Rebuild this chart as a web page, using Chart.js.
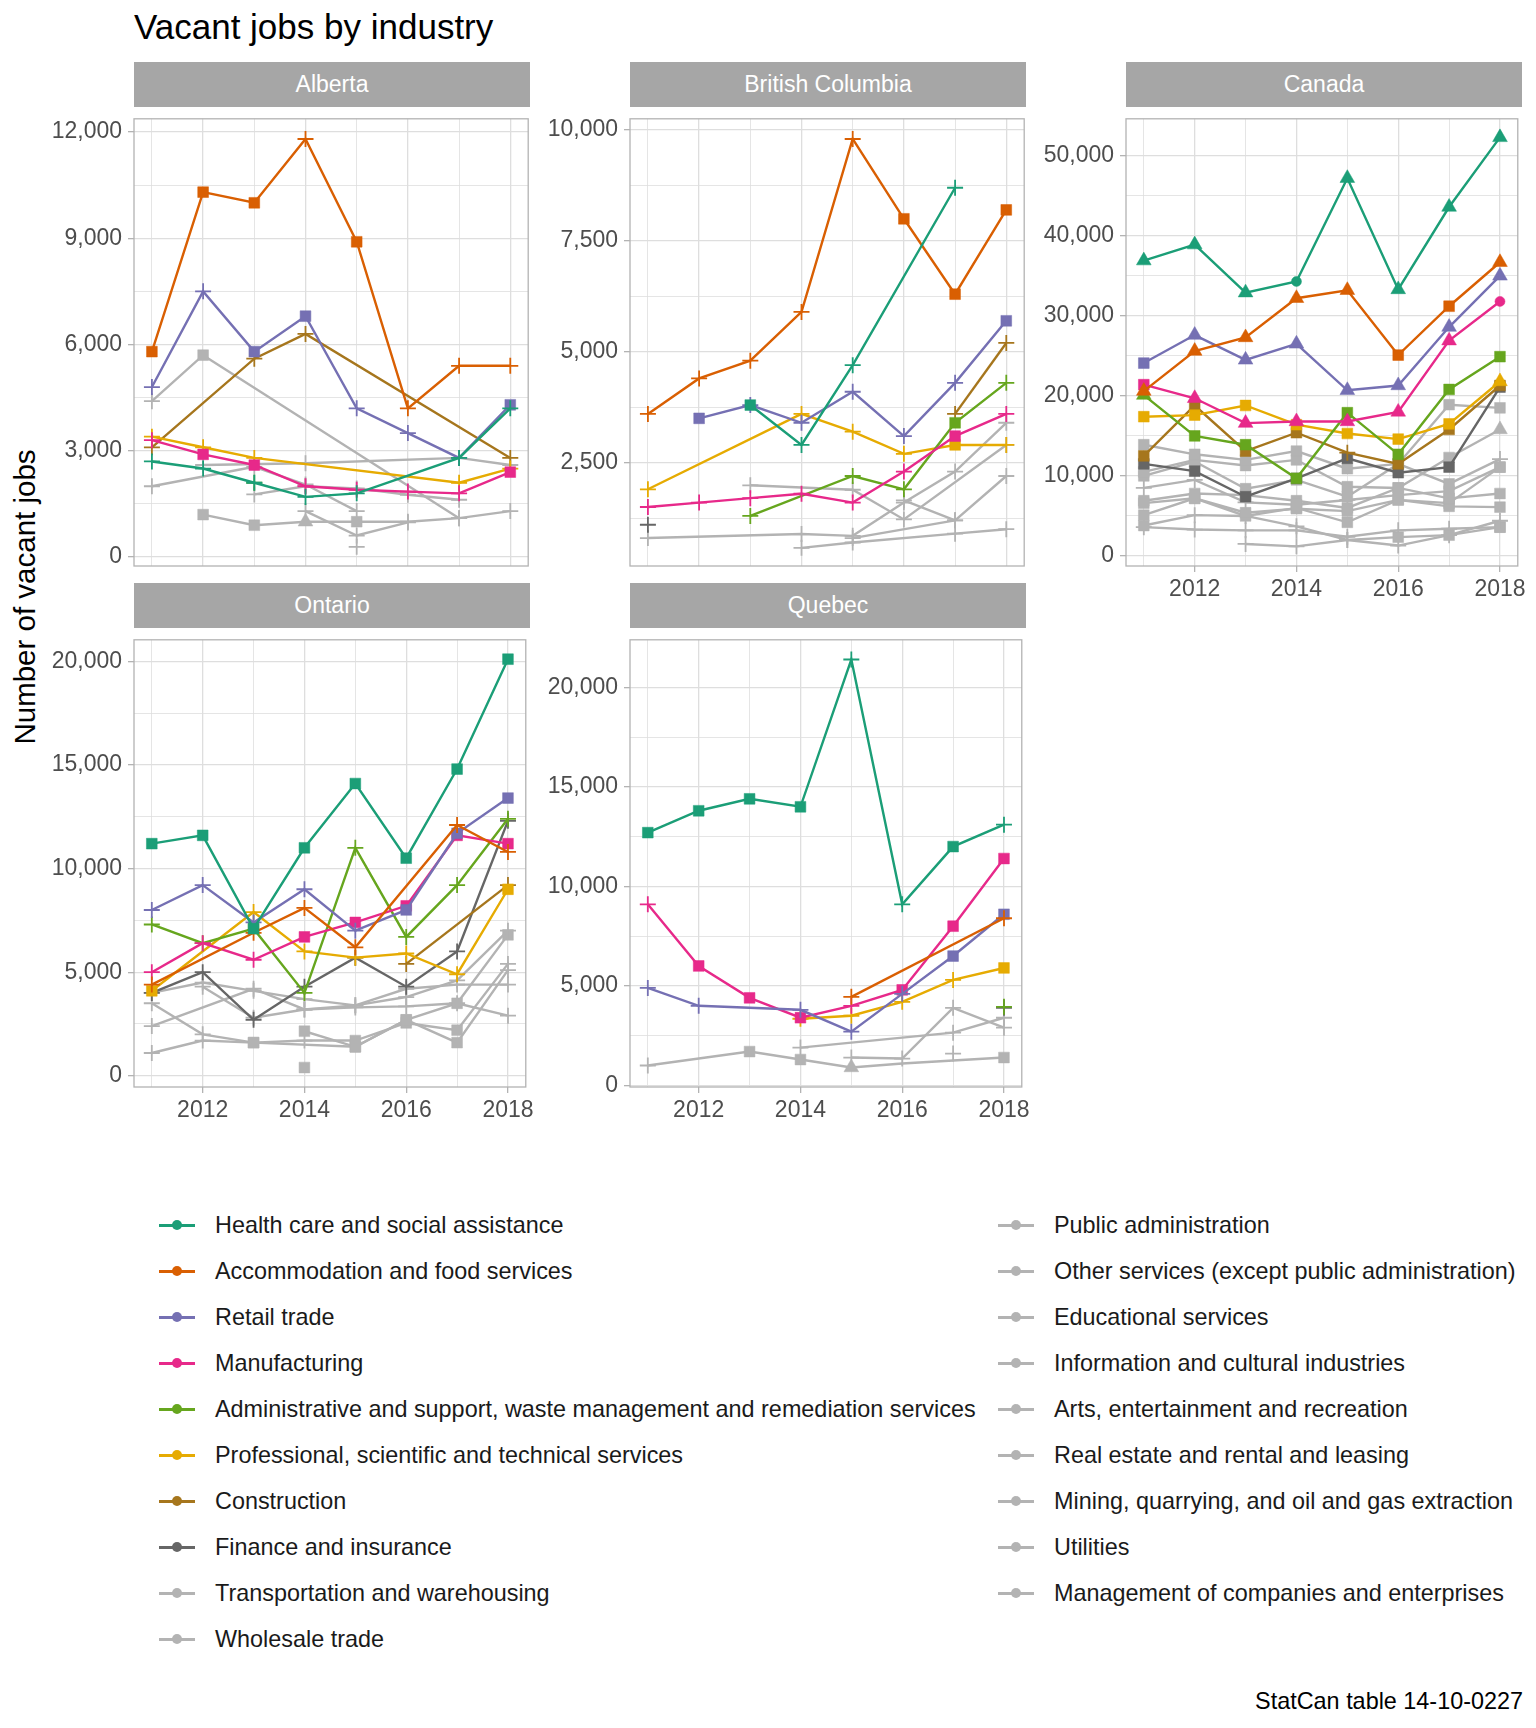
<!DOCTYPE html>
<html>
<head>
<meta charset="utf-8">
<script src="https://cdn.jsdelivr.net/npm/chart.js@4.4.1/dist/chart.umd.min.js"></script>
<style>
  body { margin: 0; background: #fff; font-family: "Liberation Sans", Arial, sans-serif; }
  #wrap { position: relative; width: 1536px; height: 1728px; overflow: hidden; }
  .strip { position: absolute; background: #a6a6a6; color: #fff; font-size: 23px;
           display: flex; align-items: center; justify-content: center; }
  canvas { position: absolute; }
  .leg { position: absolute; height: 30px; display: flex; align-items: center;
         font-size: 23.4px; color: #1a1a1a; white-space: nowrap; }
  .key { position: relative; width: 36px; height: 30px; margin-right: 20px; flex: none; }
  .key i { position: absolute; left: 0; right: 0; top: 14px; height: 2.5px; }
  .key b { position: absolute; left: 13px; top: 10px; width: 10px; height: 10px; border-radius: 50%; }
</style>
</head>
<body>
<div id="wrap">
  <div style="position:absolute;left:134px;top:9px;font-size:35px;line-height:1;color:#000">Vacant jobs by industry</div>
  <div style="position:absolute;left:-175px;top:580px;width:400px;height:34px;line-height:34px;text-align:center;font-size:29.5px;color:#000;transform:rotate(-90deg)">Number of vacant jobs</div>
  <div style="position:absolute;right:13px;top:1688px;font-size:23.4px;line-height:26px;color:#000">StatCan table 14-10-0227</div>
</div>
<script>
const years = [2011, 2012, 2013, 2014, 2015, 2016, 2017, 2018];

const industries = [
  "Health care and social assistance",
  "Accommodation and food services",
  "Retail trade",
  "Manufacturing",
  "Administrative and support, waste management and remediation services",
  "Professional, scientific and technical services",
  "Construction",
  "Finance and insurance",
  "Transportation and warehousing",
  "Wholesale trade",
  "Public administration",
  "Other services (except public administration)",
  "Educational services",
  "Information and cultural industries",
  "Arts, entertainment and recreation",
  "Real estate and rental and leasing",
  "Mining, quarrying, and oil and gas extraction",
  "Utilities",
  "Management of companies and enterprises"
];

const industryColors = ["#1b9e77", "#d95f02", "#7570b3", "#e7298a", "#66a61e", "#e6ab02", "#a6761d", "#666666",
  "#b3b3b3", "#b3b3b3", "#b3b3b3", "#b3b3b3", "#b3b3b3", "#b3b3b3", "#b3b3b3", "#b3b3b3", "#b3b3b3", "#b3b3b3", "#b3b3b3"];

// s = square, p = plus, t = triangle, c = circle, . = no value
const albertaValues = [
  [2700, 2500, 2100, 1700, 1800, null, 2800, 4200],
  [5800, 10300, 10000, 11800, 8900, 4200, 5400, 5400],
  [4800, 7500, 5800, 6800, 4200, 3500, 2800, 4300],
  [3300, 2900, 2600, 2000, 1900, 1850, 1800, 2400],
  [null, null, 2100, null, null, null, null, null],
  [3400, 3100, 2800, null, null, null, 2100, 2500],
  [3100, null, 5600, 6300, null, null, null, 2800],
  null,
  [4400, 5700, null, null, null, null, 1100, null],
  [null, 1200, 900, 1000, 1000, 1000, 1100, 1300],
  [null, 2600, null, 2650, null, null, 2800, 2600],
  [2000, null, 2550, 2050, 1300, null, null, null],
  [null, null, 1770, 2000, 1940, 1760, 1620, null],
  [null, null, null, 1300, 610, 980, null, null],
  [null, null, null, null, 290, null, null, null]
];
const albertaShapes = ["ppppp.pp", "ssspsppp", "ppssppps", "psspppps", "..p.....", "ppp...pp", "p.pp...p", "",
  "ps....p.", ".sstsppp", ".p.p..pp", "p.ppp...", "..ppppp.", "...ppp..", "....p..."];

const bcValues = [
  [null, null, 3800, 2900, 4700, null, 8700, null],
  [3600, 4400, 4800, 5900, 9800, 8000, 6300, 8200],
  [null, 3500, 3800, 3400, 4100, 3100, 4300, 5700],
  [1500, 1600, 1700, 1800, 1600, 2300, 3100, 3600],
  [null, null, 1300, null, 2200, 1900, 3400, 4300],
  [1900, null, null, 3600, 3200, 2700, 2900, 2900],
  [null, null, null, null, null, null, 3600, 5200],
  [1100, null, null, null, null, null, null, null],
  [800, null, null, 890, 850, 1600, 2300, 3400],
  [null, null, null, 580, 700, null, 900, 1000],
  [null, null, 1990, null, 1890, 1220, null, 2900],
  [null, null, null, null, null, 1650, 1200, 2200],
  [null, null, null, null, 800, null, 1200, null]
];
const bcShapes = ["..spp.p.", "pppppsss", ".sppppps", "ppppppsp", "..p.ppsp", "p..pppsp", "......pp", "p.......",
  "p..ppppp", "...pp.pp", "..p.pp.p", ".....ppp", "....p.p."];

const canadaValues = [
  [36900, 38900, 32900, 34300, 47200, 33300, 43600, 52300],
  [20600, 25600, 27300, 32200, 33200, 25100, 31200, 36700],
  [24100, 27600, 24500, 26500, 20700, 21300, 28600, 35000],
  [21400, 19700, 16600, 16800, 16800, 18000, 26900, 31800],
  [20100, 15000, 13900, 9700, 17900, 12700, 20800, 24900],
  [17400, 17600, 18800, 16400, 15300, 14600, 16500, 21800],
  [12500, 18800, 13100, 15400, 12900, 11500, 15800, 21300],
  [11500, 10600, 7400, 9700, 12200, 10400, 11100, 21100],
  [13900, 12700, 12000, 13100, 10900, 11500, 18900, 18500],
  [10500, 12000, 11300, 12000, 8650, 8500, 12300, 15800],
  [10000, 11800, 8400, 9500, 7400, 11500, 9000, 12100],
  [8500, 9500, 6700, 6400, 7000, 7600, 8100, 11100],
  [6900, 7800, 7600, 6900, 6000, 8500, 7200, 7800],
  [6600, 7200, 5400, 5900, 5600, 7000, 6200, 6100],
  [5100, 7200, 5000, 6000, 4200, 7000, 6600, 11100],
  [3800, 5100, 5000, 3700, 2000, 2350, 2600, 4400],
  [3600, 3300, 3200, 3200, 2400, 3200, 3400, 3600],
  [null, null, 1500, 1200, 2000, 1300, 2600, 3600]
];
const canadaShapes = ["tttctttt", "tttttsst", "sttttttt", "sttttttc", "tsssssss", "ssssssst", "sssspsss", "ssssssss",
  "ssssssss", "ssssssst", "sssssssp", "pppspsss", "ssssssss", "ssssssss", "ssssssss", "sppppssp", "ppppppps", "..ppppps"];

const ontarioValues = [
  [11200, 11600, 7100, 11000, 14100, 10500, 14800, 20100],
  [4400, null, 6900, 8100, 6200, null, 12100, 10800],
  [8000, 9200, 7400, 9000, 7000, 8000, 11700, 13400],
  [5000, 6400, 5600, 6700, 7400, 8200, 11600, 11200],
  [7300, 6400, 7100, 4000, 11000, 6700, 9200, 12400],
  [4100, null, 7900, 6000, 5700, 5900, 4900, 9000],
  [null, null, null, null, null, 5400, null, 9200],
  [4000, 5000, 2700, 4300, 5700, 4300, 6000, 12300],
  [4000, 4500, 4100, 3700, 3400, 4200, 4400, 4400],
  [3500, 2000, 1600, null, 1400, 2700, 3500, 2900],
  [2400, null, 4200, 3200, 3400, 3800, 4600, 7000],
  [1100, 1700, 1600, 1700, 1700, 2550, 2200, 5400],
  [null, null, null, 2150, 1400, 2700, 1600, 5100],
  [null, 4300, 2800, 3200, 3300, 3350, 3500, 6800],
  [null, null, null, 400, null, null, null, null]
];
const ontarioShapes = ["ssssssss", "p.ppp.pp", "pppppsss", "pppsssss", "ppsppppp", "s.ppppps", ".....p.p", "pppppppp",
  "pppppppp", "pps.sssp", "p.pppppp", "ppspsssp", "...ssssp", ".pppppps", "...s...."];

const quebecValues = [
  [12700, 13800, 14400, 14000, 21400, 9100, 12000, 13100],
  [null, null, null, null, 4450, null, null, 8400],
  [4900, 4000, null, 3800, 2700, 4600, 6500, 8600],
  [9100, 6000, 4400, 3400, 4000, 4800, 8000, 11400],
  [null, null, null, null, null, null, null, 3950],
  [null, null, null, 3350, 3500, 4200, 5300, 5900],
  null,
  [null, null, null, null, null, null, null, 3900],
  [1000, null, 1700, 1300, 900, 1100, 1250, 1400],
  [null, null, null, 1900, null, null, 2650, 3400],
  [null, null, null, null, 1400, 1350, 3900, 2900],
  [null, null, null, null, null, null, 1600, null]
];
const quebecShapes = ["ssssppsp", "....p..p", "pp.pppss", "pssspsss", ".......p", "...pppps", "", ".......p",
  "p.sst..s", "...p..pp", "....pppp", "......p."];

Chart.defaults.font.family = '"Liberation Sans", Arial, sans-serif';
Chart.defaults.animation = false;

const wrap = document.getElementById("wrap");
const colLeft = [134, 630, 1126];
const rowTop = [107, 628];
const panelW = 396, panelH = 459;

const styleOf = { s: "rect", p: "cross", t: "triangle", c: "circle" };
const radiusOf = { s: 7.6, p: 8, t: 8.5, c: 5 };

const borderPlugin = {
  id: "panelBorder",
  afterDraw(chart) {
    const a = chart.chartArea, c = chart.ctx;
    c.save();
    c.strokeStyle = "#b3b3b3";
    c.lineWidth = 1.3;
    c.strokeRect(a.left, a.top, a.right - a.left, a.bottom - a.top);
    c.restore();
  }
};

function makePanel(name, col, row, values, shapes, yMin, yMax, yStep, showX) {
  const left = colLeft[col], top = rowTop[row];

  const strip = document.createElement("div");
  strip.className = "strip";
  strip.style.cssText = `left:${left}px;top:${top - 45}px;width:${panelW}px;height:45px;`;
  strip.textContent = name;
  wrap.appendChild(strip);

  const cv = document.createElement("canvas");
  cv.width = 110 + panelW + 8;
  cv.height = 8 + panelH + 44;
  cv.style.left = (left - 110) + "px";
  cv.style.top = (top - 8) + "px";
  wrap.appendChild(cv);

  const datasets = [];
  values.forEach((vals, i) => {
    if (!vals) return;
    const sh = shapes[i];
    const color = industryColors[i];
    datasets.push({
      label: industries[i],
      data: years.map((y, k) => ({ x: y, y: vals[k] })),
      borderColor: color,
      backgroundColor: color,
      borderWidth: 2.4,
      spanGaps: true,
      pointStyle: ctx => styleOf[sh[ctx.dataIndex]] || "circle",
      pointRadius: ctx => radiusOf[sh[ctx.dataIndex]] || 0,
      pointBorderWidth: ctx => sh[ctx.dataIndex] === "p" ? 1.8 : 0.5,
      pointBackgroundColor: color,
      pointBorderColor: color
    });
  });

  const half = yStep / 2;
  const yTicks = [];
  for (let k = Math.ceil(yMin / half); k * half <= yMax; k++) yTicks.push(k * half);
  const isMajorY = v => Math.abs(v / yStep - Math.round(v / yStep)) < 1e-6;

  new Chart(cv, {
    type: "line",
    data: { datasets },
    plugins: [borderPlugin],
    options: {
      responsive: false,
      devicePixelRatio: 1,
      layout: { padding: { top: 8, right: 8, left: 0, bottom: 0 } },
      plugins: { legend: { display: false }, tooltip: { enabled: false } },
      scales: {
        x: {
          type: "linear",
          min: 2010.65,
          max: 2018.35,
          afterBuildTicks: ax => { ax.ticks = years.map(v => ({ value: v })); },
          afterFit: ax => { ax.height = 44; },
          border: { display: false },
          grid: {
            color: "#dedede",
            lineWidth: ctx => (ctx.tick && ctx.tick.value % 2 === 0) ? 1.3 : 0.8,
            tickLength: 6,
            tickColor: ctx => (showX && ctx.tick && ctx.tick.value % 2 === 0) ? "#b3b3b3" : "rgba(0,0,0,0)"
          },
          ticks: {
            autoSkip: false,
            maxRotation: 0,
            padding: 4,
            color: "#4d4d4d",
            font: { size: 23 },
            callback: v => (showX && v % 2 === 0) ? String(v) : ""
          }
        },
        y: {
          min: yMin,
          max: yMax,
          afterBuildTicks: ax => { ax.ticks = yTicks.map(v => ({ value: v })); },
          afterFit: ax => { ax.width = 110; },
          border: { display: false },
          grid: {
            color: "#dedede",
            lineWidth: ctx => (ctx.tick && isMajorY(ctx.tick.value)) ? 1.3 : 0.8,
            tickLength: 6,
            tickColor: ctx => (ctx.tick && isMajorY(ctx.tick.value)) ? "#b3b3b3" : "rgba(0,0,0,0)"
          },
          ticks: {
            autoSkip: false,
            padding: 6,
            color: "#4d4d4d",
            font: { size: 23 },
            callback: v => isMajorY(v) ? (Math.round(v) + 0).toLocaleString("en-US") : ""
          }
        }
      }
    }
  });
}

makePanel("Alberta", 0, 0, albertaValues, albertaShapes, -250, 12370, 3000, false);
makePanel("British Columbia", 1, 0, bcValues, bcShapes, 170, 10255, 2500, false);
makePanel("Canada", 2, 0, canadaValues, canadaShapes, -1255, 54620, 10000, true);
makePanel("Ontario", 0, 1, ontarioValues, ontarioShapes, -540, 21035, 5000, true);
makePanel("Quebec", 1, 1, quebecValues, quebecShapes, -80, 22390, 5000, true);

// legend: two columns, built from the industry list
industries.forEach((name, i) => {
  const rightCol = i >= 10;
  const r = rightCol ? i - 10 : i;
  const row = document.createElement("div");
  row.className = "leg";
  row.style.left = (rightCol ? 998 : 159) + "px";
  row.style.top = (1210 + r * 46) + "px";
  const key = document.createElement("span");
  key.className = "key";
  key.innerHTML = `<i style="background:${industryColors[i]}"></i><b style="background:${industryColors[i]}"></b>`;
  row.appendChild(key);
  row.appendChild(document.createTextNode(name));
  wrap.appendChild(row);
});
</script>
</body>
</html>
